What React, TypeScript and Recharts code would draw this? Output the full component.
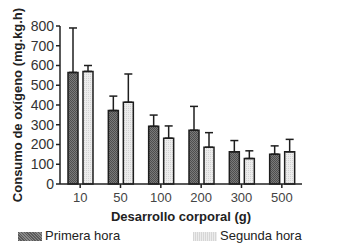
import { BarChart, Bar, XAxis, YAxis, ErrorBar, Legend } from 'recharts';

const categories = ['10', '50', '100', '200', '300', '500'];
const primeraHora = [565, 372, 292, 272, 163, 151];
const primeraHoraTop = [790, 445, 349, 393, 220, 193];
const segundaHora = [570, 414, 232, 186, 129, 163];
const segundaHoraTop = [600, 557, 294, 260, 168, 226];
const yTicks = [0, 100, 200, 300, 400, 500, 600, 700, 800];

const data = categories.map((c, i) => ({
  name: c,
  primera: primeraHora[i],
  primeraErr: [0, primeraHoraTop[i] - primeraHora[i]],
  segunda: segundaHora[i],
  segundaErr: [0, segundaHoraTop[i] - segundaHora[i]],
}));

const font = '"Liberation Sans", Arial, sans-serif';

const LegendContent = () => (
  <div style={{ position: 'relative', height: 20, fontFamily: font, fontSize: 13, color: '#222' }}>
    <div style={{ position: 'absolute', left: 18, top: 4, width: 24, height: 9, background: 'repeating-linear-gradient(45deg, #5a5a5a 0 1px, #8a8a8a 1px 2px)' }} />
    <span style={{ position: 'absolute', left: 45, top: 0 }}>Primera hora</span>
    <div style={{ position: 'absolute', left: 193, top: 4, width: 24, height: 9, background: 'repeating-linear-gradient(90deg, #d6d6d6 0 1px, #ececec 1px 2px)' }} />
    <span style={{ position: 'absolute', left: 220, top: 0 }}>Segunda hora</span>
  </div>
);

export default function App() {
  return (
    <div style={{ position: 'fixed', left: 0, top: 0, width: 343, height: 252, background: '#fff' }}>
      <BarChart
        width={343}
        height={252}
        data={data}
        margin={{ top: 26, right: 41, bottom: 0, left: 0 }}
        barSize={10}
        barGap={5}
      >
        <defs>
          <pattern id="darkFill" width="2" height="2" patternUnits="userSpaceOnUse">
            <rect width="2" height="2" fill="#7a7a7a" />
            <rect width="1" height="1" fill="#4e4e4e" />
            <rect x="1" y="1" width="1" height="1" fill="#4e4e4e" />
          </pattern>
          <pattern id="lightFill" width="2" height="2" patternUnits="userSpaceOnUse">
            <rect width="2" height="2" fill="#ececec" />
            <rect width="1" height="1" fill="#d2d2d2" />
          </pattern>
        </defs>
        <XAxis
          dataKey="name"
          height={44}
          stroke="#222"
          strokeWidth={1.5}
          tickSize={4}
          tick={{ fill: '#444', fontSize: 13, fontFamily: font, dy: 3 }}
          label={{ value: 'Desarrollo corporal (g)', position: 'insideBottom', offset: 7, fill: '#222', fontSize: 13, fontWeight: 'bold', fontFamily: font }}
        />
        <YAxis
          width={60}
          domain={[0, 800]}
          ticks={yTicks}
          interval={0}
          stroke="#222"
          strokeWidth={1.5}
          tickSize={4}
          tick={{ fill: '#333', fontSize: 14, fontFamily: font }}
          label={{ value: 'Consumo de oxígeno (mg.kg.h)', angle: -90, position: 'insideLeft', offset: 17, style: { textAnchor: 'middle' }, fill: '#222', fontSize: 13, fontWeight: 'bold', fontFamily: font }}
        />
        <Legend verticalAlign="bottom" height={24} content={<LegendContent />} />
        <Bar dataKey="primera" fill="url(#darkFill)" stroke="#1e1e1e" strokeWidth={1.5} isAnimationActive={false}>
          <ErrorBar dataKey="primeraErr" width={4} stroke="#1e1e1e" strokeWidth={1.5} direction="y" />
        </Bar>
        <Bar dataKey="segunda" fill="url(#lightFill)" stroke="#1e1e1e" strokeWidth={1.5} isAnimationActive={false}>
          <ErrorBar dataKey="segundaErr" width={4} stroke="#1e1e1e" strokeWidth={1.5} direction="y" />
        </Bar>
      </BarChart>
    </div>
  );
}
